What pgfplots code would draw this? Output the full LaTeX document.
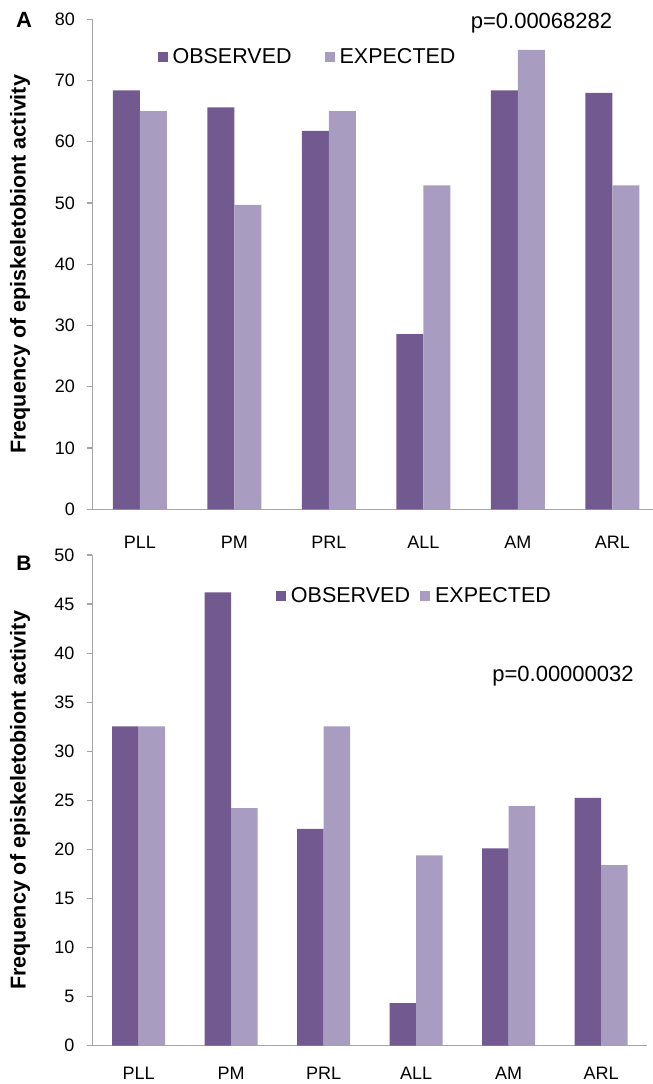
\documentclass[border=0pt]{standalone}
\usepackage{fontspec}
\setmainfont{Liberation Sans}
\usepackage{pgfplots}
\pgfplotsset{compat=1.18}
\definecolor{obs}{RGB}{114,89,144}
\definecolor{expc}{RGB}{168,156,193}
\definecolor{axgray}{RGB}{165,165,165}
\pgfplotsset{
  panel/.style={
    scale only axis, ybar=0pt,
    axis lines*=left,
    axis line style={axgray, line width=1.2pt},
    ymin=0, xmin=-0.5,
    xtick={0,...,5}, xticklabels={PLL,PM,PRL,ALL,AM,ARL},
    x tick style={draw=none},
    y tick style={axgray, line width=1.2pt},
    tick align=outside, major tick length=5.7pt,
    /pgf/number format/assume math mode=true,
    ticklabel style={font=\fontsize{18}{20}\selectfont, text=black},
    xticklabel style={anchor=north, inner sep=0pt, yshift=-15.3pt},
    yticklabel style={anchor=east, inner sep=0pt, xshift=-12pt},
    legend columns=2,
    legend style={draw=none, fill=none, inner sep=0pt, outer sep=0pt,
      font=\fontsize{21.5}{24}\selectfont, nodes={inner sep=0pt},
      /tikz/every odd column/.append style={column sep=5pt}},
    ylabel={Frequency of episkeletobiont activity},
    ylabel style={font=\bfseries\fontsize{21.5}{24}\selectfont},
  },
  sq/.style={draw=none, legend image code/.code={\fill (0pt,-5pt) rectangle (10pt,5pt);}},
}
\begin{document}
\begin{tikzpicture}
\begin{axis}[panel, at={(92.7pt,574.7pt)}, anchor=south west,
  width=560.3pt, height=490pt, xmax=5.429, ymax=80, ytick={0,10,...,80},
  bar width=27pt,
  xticklabel style={yshift=-6pt},
  ylabel style={at={(axis description cs:-0.1297,0.5)}, anchor=center},
  legend style={at={(axis description cs:0.1157,0.923)}, anchor=west,
    /tikz/every even column/.append style={column sep=33pt}}]
\addplot[sq, fill=obs] coordinates {(0,68.4) (1,65.6) (2,61.8) (3,28.6) (4,68.4) (5,68.0)};
\addplot[sq, fill=expc] coordinates {(0,65.0) (1,49.7) (2,65.0) (3,52.9) (4,75.0) (5,52.9)};
\legend{OBSERVED,EXPECTED}
\end{axis}
\begin{axis}[panel, at={(92.4pt,38.3pt)}, anchor=south west,
  width=555pt, height=490.7pt, xmax=5.5, ymax=50, ytick={0,5,...,50},
  bar width=26.5pt,
  ylabel style={at={(axis description cs:-0.1305,0.5)}, anchor=center},
  legend style={at={(axis description cs:0.3308,0.9165)}, anchor=west,
    /tikz/every even column/.append style={column sep=10pt}}]
\addplot[sq, fill=obs] coordinates {(0,32.55) (1,46.2) (2,22.1) (3,4.35) (4,20.1) (5,25.25)};
\addplot[sq, fill=expc] coordinates {(0,32.55) (1,24.2) (2,32.55) (3,19.4) (4,24.4) (5,18.4)};
\legend{OBSERVED,EXPECTED}
\end{axis}
\node[anchor=base, font=\fontsize{22}{24}\selectfont] at (541.5pt,1055.5pt) {p=0.00068282};
\node[anchor=base, font=\fontsize{22}{24}\selectfont] at (563pt,402pt) {p=0.00000032};
\node[anchor=base, font=\bfseries\fontsize{22}{24}\selectfont] at (24pt,1056pt) {A};
\node[anchor=base, font=\bfseries\fontsize{21}{24}\selectfont] at (24pt,513.3pt) {B};
\pgfresetboundingbox
\path[use as bounding box] (0pt,0pt) rectangle (653pt,1084pt);
\end{tikzpicture}
\end{document}
